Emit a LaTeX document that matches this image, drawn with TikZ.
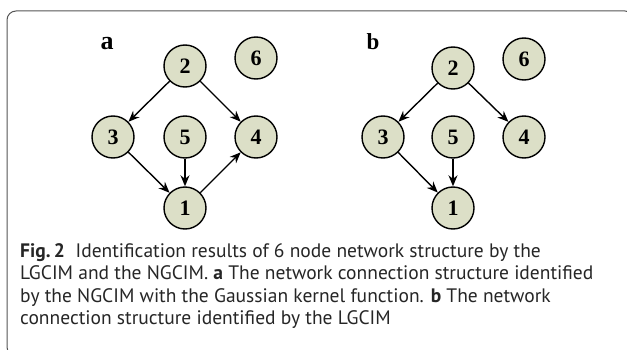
\documentclass[tikz,border=0pt]{standalone}
\usepackage{fontspec}
\setmainfont{Liberation Serif}
\newfontfamily\capfont{PT Sans}
\usetikzlibrary{arrows.meta}
\definecolor{nodefill}{HTML}{DCDFC7}
\definecolor{framegray}{HTML}{555555}
\tikzset{
  netnode/.style={circle, draw=black, line width=1.4pt, fill=nodefill, minimum size=42pt, inner sep=0pt, font=\fontsize{22}{22}\selectfont\bfseries},
  link/.style={-{Stealth[length=11pt,width=9pt]}, line width=1.4pt, black},
  capline/.style={anchor=base west, inner sep=0pt, font=\capfont\fontsize{19.5}{22}\selectfont, text=black!85}
}
\begin{document}
\begin{tikzpicture}[x=1pt,y=-1pt]
\clip (0,0) rectangle (627,350);
\fill[white] (0,0) rectangle (627,350);
\draw[framegray, line width=1pt, rounded corners=9pt] (7,11) rectangle (634,356);
% panel a
\node[anchor=base, inner sep=0pt, font=\fontsize{26}{26}\selectfont\bfseries] (la) at (107,50) {a};
\node[netnode] (a2) at (185,66) {2};
\node[netnode] (a6) at (256,58) {6};
\node[netnode] (a3) at (113,137) {3};
\node[netnode] (a5) at (185,137) {5};
\node[netnode] (a4) at (256,137) {4};
\node[netnode] (a1) at (185,208) {1};
\draw[link] (a2) -- (a3);
\draw[link] (a2) -- (a4);
\draw[link] (a3) -- (a1);
\draw[link] (a5) -- (a1);
\draw[link] (a1) -- (a4);
% panel b
\node[anchor=base, inner sep=0pt, font=\fontsize{23}{23}\selectfont\bfseries] (lb) at (373,50) {b};
\node[netnode] (b2) at (453,68) {2};
\node[netnode] (b6) at (524,59) {6};
\node[netnode] (b3) at (383,137) {3};
\node[netnode] (b5) at (453,137) {5};
\node[netnode] (b4) at (524,137) {4};
\node[netnode] (b1) at (453,208) {1};
\draw[link] (b2) -- (b3);
\draw[link] (b2) -- (b4);
\draw[link] (b3) -- (b1);
\draw[link] (b5) -- (b1);
% caption
\node[capline] (c1) at (20,257) {\textbf{Fig.\,2}\hspace{0.55em}Identification results of 6 node network structure by the};
\node[capline] (c2) at (20,279.5) {LGCIM and the NGCIM. \textbf{a} The network connection structure identified};
\node[capline] (c3) at (20,302) {by the NGCIM with the Gaussian kernel function. \textbf{b} The network};
\node[capline] (c4) at (20,324.5) {connection structure identified by the LGCIM};
\end{tikzpicture}
\end{document}
